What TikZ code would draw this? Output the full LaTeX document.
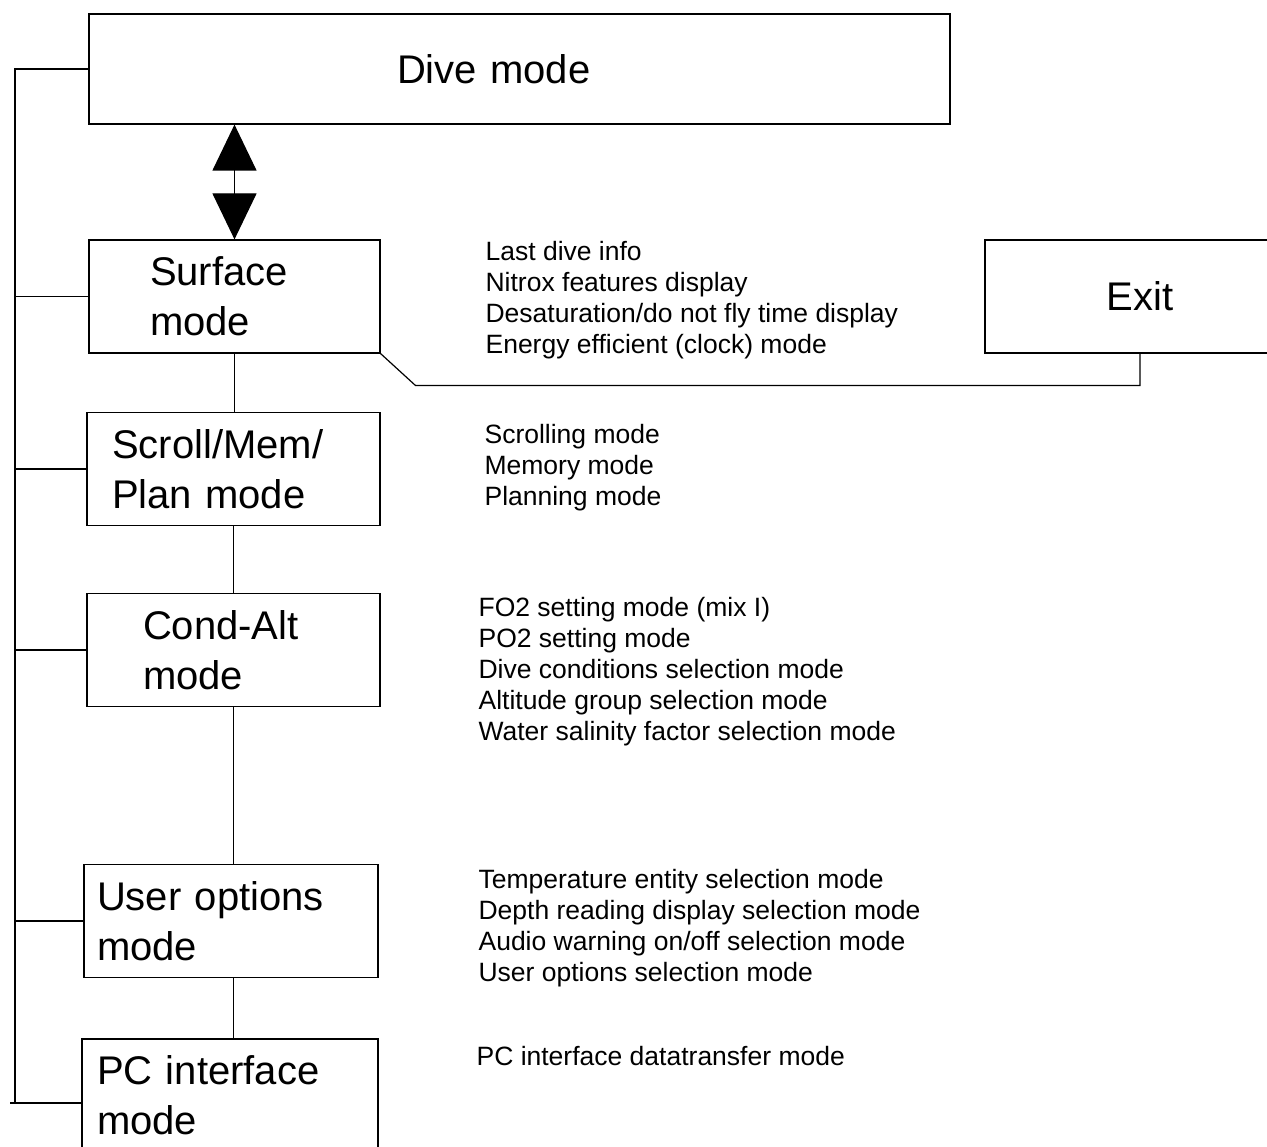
\documentclass[tikz,border=0pt]{standalone}
\usepackage{fontspec}
\setmainfont{Liberation Sans}
\usetikzlibrary{arrows.meta,positioning}

\begin{document}
\begin{tikzpicture}[x=1pt,y=-1pt,line width=1.2pt,
  mode node/.style={draw,rectangle,minimum height=113pt,align=left,inner sep=0pt,
    font=\fontsize{40}{50}\selectfont},
  info node/.style={anchor=north west,align=left,inner sep=0pt,
    font=\fontsize{26.5}{31}\selectfont},
  big tip/.style={{Triangle[width=44pt,length=46pt]}-{Triangle[width=44pt,length=46pt]}}]

  \useasboundingbox (0,0) rectangle (1267,1147);

  \node[mode node,minimum width=861pt,minimum height=110pt,text width=245pt] (dive) at (519.5,69) {Dive mode};
  \node[mode node,minimum width=291pt,text width=169pt] (surface) at (234.5,296.5) {Surface\\mode};
  \node[mode node,minimum width=293pt,text width=243pt] (scroll) at (233.5,469) {Scroll/Mem/\\Plan mode};
  \node[mode node,minimum width=293pt,text width=181pt] (condalt) at (233.5,650) {Cond-Alt\\mode};
  \node[mode node,minimum width=294pt,text width=268pt] (user) at (231,921) {User options\\mode};
  \node[mode node,minimum width=296pt,text width=266pt] (pc) at (230,1095.5) {PC interface\\mode};
  \node[mode node,minimum width=310pt,align=center] (exit) at (1140,296.5) {Exit};

  \node[info node] (surfaceinfo) at (485,241) {Last dive info\\Nitrox features display\\Desaturation/do not fly time display\\Energy efficient (clock) mode};
  \node[info node] (scrollinfo) at (484,424) {Scrolling mode\\Memory mode\\Planning mode};
  \node[info node] (condaltinfo) at (478,597) {FO2 setting mode (mix I)\\PO2 setting mode\\Dive conditions selection mode\\Altitude group selection mode\\Water salinity factor selection mode};
  \node[info node] (userinfo) at (478,869) {Temperature entity selection mode\\Depth reading display selection mode\\Audio warning on/off selection mode\\User options selection mode};
  \node[info node] (pcinfo) at (476,1046) {PC interface datatransfer mode};

  % dive <-> surface
  \draw[big tip] (surface.north) -- (surface.north |- dive.south);

  % chain of modes
  \draw (surface.south) -- (surface.south |- scroll.north);
  \draw (scroll.south) -- (scroll.south |- condalt.north);
  \draw (condalt.south) -- (condalt.south |- user.north);
  \draw (condalt.south |- user.south) -- (condalt.south |- pc.north);

  % way out
  \draw (surface.south east) -- ++(35,32) -| (exit.south);

  % left bus
  \coordinate (bustop) at (15,69);
  \coordinate (busend) at (10,1103);
  \draw (dive.west) -- (bustop) -- (bustop |- busend);
  \foreach \n in {surface,scroll,condalt,user}
    \draw (\n.west) -- (\n.west -| bustop);
  \draw (busend) -- (busend -| pc.west);
\end{tikzpicture}
\end{document}
